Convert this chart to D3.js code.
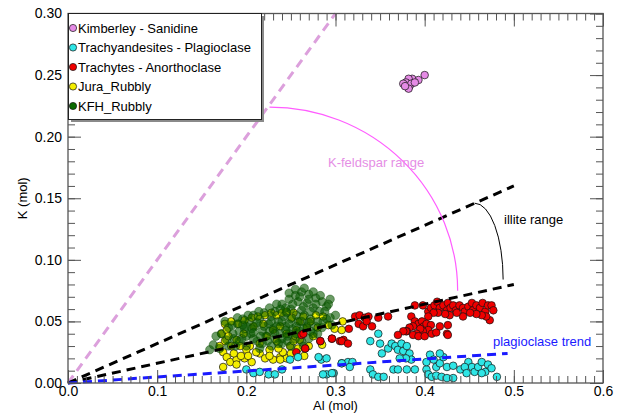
<!DOCTYPE html>
<html>
<head>
<meta charset="utf-8">
<script src="https://cdnjs.cloudflare.com/ajax/libs/d3/7.8.5/d3.min.js"></script>
<style>
body { margin: 0; background: #fff; }
text { font-family: "Liberation Sans", Arial, Helvetica, sans-serif; }
</style>
</head>
<body>
<svg id="chart" width="617" height="413"></svg>
<script>
// values, each point is [Al, K] in mol
var kimberley = [[0.400,0.250],[0.393,0.246],[0.386,0.247],[0.382,0.247],[0.379,0.244],[0.376,0.243],
    [0.383,0.241],[0.385,0.243],[0.389,0.244],[0.382,0.239],[0.378,0.241]];

var trachyandesites = [[0.348,0.040],[0.339,0.034],[0.350,0.032],[0.352,0.024],[0.359,0.028],[0.363,0.032],
    [0.367,0.030],[0.370,0.027],[0.374,0.032],[0.376,0.026],[0.380,0.030],[0.383,0.024],[0.385,0.019],
    [0.379,0.020],[0.372,0.020],[0.284,0.019],[0.290,0.020],[0.307,0.016],[0.314,0.017],[0.319,0.017],
    [0.316,0.013],[0.290,0.007],[0.298,0.008],[0.339,0.011],[0.342,0.007],[0.348,0.005],[0.354,0.005],
    [0.365,0.011],[0.370,0.011],[0.380,0.011],[0.389,0.011],[0.402,0.011],[0.404,0.007],[0.408,0.005],
    [0.413,0.006],[0.419,0.005],[0.425,0.004],[0.432,0.004],[0.413,0.013],[0.417,0.016],[0.421,0.021],
    [0.417,0.024],[0.406,0.023],[0.410,0.019],[0.402,0.017],[0.425,0.013],[0.432,0.014],[0.440,0.011],
    [0.449,0.017],[0.453,0.013],[0.456,0.009],[0.460,0.013],[0.464,0.017],[0.468,0.009],[0.471,0.015],
    [0.475,0.012],[0.481,0.005],[0.464,0.008],[0.445,0.013],[0.447,0.008],[0.200,0.011],[0.208,0.008],
    [0.215,0.009],[0.225,0.007],[0.232,0.007],[0.240,0.011],[0.249,0.019],[0.258,0.021],[0.281,0.021],
    [0.286,0.007],[0.296,0.008],[0.307,0.016]];

var trachytes = [[0.389,0.063],[0.398,0.063],[0.404,0.058],[0.407,0.061],[0.411,0.063],[0.414,0.066],
    [0.417,0.061],[0.421,0.063],[0.425,0.059],[0.426,0.065],[0.429,0.061],[0.432,0.063],[0.435,0.059],
    [0.439,0.063],[0.443,0.061],[0.445,0.058],[0.449,0.062],[0.453,0.065],[0.454,0.059],[0.458,0.063],
    [0.462,0.061],[0.465,0.065],[0.468,0.058],[0.471,0.063],[0.475,0.063],[0.477,0.059],[0.473,0.051],
    [0.469,0.054],[0.464,0.055],[0.458,0.056],[0.451,0.057],[0.443,0.054],[0.436,0.057],[0.428,0.055],
    [0.423,0.056],[0.415,0.057],[0.410,0.057],[0.404,0.054],[0.385,0.054],[0.389,0.050],[0.393,0.048],
    [0.397,0.050],[0.399,0.046],[0.402,0.048],[0.407,0.047],[0.404,0.043],[0.398,0.042],[0.395,0.044],
    [0.391,0.040],[0.387,0.046],[0.383,0.045],[0.380,0.042],[0.387,0.039],[0.393,0.038],[0.400,0.038],
    [0.408,0.040],[0.413,0.041],[0.417,0.046],[0.425,0.040],[0.426,0.047],[0.426,0.039],[0.379,0.042],
    [0.376,0.042],[0.370,0.039],[0.315,0.044],[0.322,0.054],[0.327,0.055],[0.333,0.053],[0.337,0.054],
    [0.326,0.048],[0.331,0.046],[0.335,0.050],[0.341,0.046],[0.348,0.053],[0.359,0.054],[0.296,0.036],
    [0.305,0.034],[0.309,0.035],[0.283,0.034],[0.266,0.028],[0.262,0.039],[0.264,0.040],[0.256,0.025],
    [0.266,0.028],[0.283,0.034],[0.296,0.036],[0.307,0.034],[0.314,0.032]];

var juraRubbly = [[0.176,0.048],[0.183,0.050],[0.191,0.048],[0.198,0.051],[0.206,0.053],[0.213,0.054],
    [0.221,0.055],[0.228,0.057],[0.234,0.055],[0.240,0.057],[0.245,0.058],[0.253,0.057],[0.251,0.053],
    [0.172,0.040],[0.176,0.034],[0.170,0.030],[0.174,0.025],[0.178,0.021],[0.182,0.017],[0.174,0.013],
    [0.189,0.019],[0.198,0.020],[0.206,0.017],[0.215,0.024],[0.221,0.020],[0.230,0.019],[0.238,0.021],
    [0.245,0.020],[0.241,0.025],[0.236,0.028],[0.249,0.030],[0.253,0.034],[0.255,0.038],[0.260,0.035],
    [0.256,0.043],[0.260,0.050],[0.264,0.054],[0.189,0.035],[0.197,0.040],[0.204,0.030],[0.215,0.032],
    [0.223,0.038],[0.230,0.043],[0.238,0.046],[0.208,0.046],[0.219,0.048],[0.200,0.027],[0.211,0.025],
    [0.226,0.027],[0.234,0.034],[0.245,0.040],[0.193,0.030],[0.183,0.030],[0.178,0.043],[0.286,0.054],
    [0.299,0.044],[0.307,0.043],[0.308,0.050],[0.292,0.047],[0.280,0.045],[0.275,0.038],[0.270,0.030],
    [0.285,0.031],[0.265,0.022],[0.189,0.015],[0.238,0.019],[0.272,0.050],[0.278,0.055],[0.180,0.038],
    [0.186,0.024],[0.194,0.022],[0.202,0.022],[0.226,0.022],[0.250,0.024],[0.258,0.028],[0.268,0.045]];

var kfhRubbly = [[0.262,0.074],[0.255,0.071],[0.270,0.072],[0.248,0.068],[0.278,0.069],[0.285,0.066],
    [0.240,0.064],[0.258,0.066],[0.268,0.065],[0.290,0.062],[0.234,0.064],[0.294,0.068],[0.275,0.061],
    [0.250,0.060],[0.262,0.059],[0.282,0.058],[0.245,0.057],[0.180,0.045],[0.185,0.040],[0.190,0.048],
    [0.195,0.036],[0.198,0.044],[0.203,0.050],[0.205,0.040],[0.210,0.046],[0.212,0.034],[0.215,0.052],
    [0.218,0.042],[0.222,0.038],[0.225,0.048],[0.228,0.054],[0.230,0.044],[0.232,0.036],[0.236,0.050],
    [0.238,0.040],[0.242,0.054],[0.244,0.046],[0.246,0.038],[0.250,0.052],[0.252,0.044],[0.255,0.036],
    [0.258,0.050],[0.260,0.042],[0.265,0.055],[0.268,0.046],[0.272,0.052],[0.275,0.040],[0.280,0.050],
    [0.285,0.045],[0.290,0.052],[0.178,0.035],[0.188,0.030],[0.200,0.030],[0.215,0.028],[0.228,0.030],
    [0.240,0.032],[0.250,0.030],[0.262,0.034],[0.270,0.036],[0.196,0.052],[0.208,0.055],[0.220,0.057],
    [0.232,0.058],[0.172,0.040],[0.176,0.050],[0.166,0.038],[0.159,0.027],[0.163,0.031],[0.300,0.055],
    [0.296,0.047],[0.170,0.028],[0.255,0.076],[0.265,0.077],[0.248,0.073],[0.275,0.074],[0.283,0.071],
    [0.292,0.064],[0.270,0.068],[0.260,0.070],[0.252,0.064],[0.244,0.061],[0.264,0.062],[0.278,0.064],
    [0.288,0.058],[0.272,0.058],[0.256,0.055],[0.238,0.060],[0.226,0.061],[0.214,0.058],[0.202,0.055],
    [0.190,0.053],[0.184,0.047],[0.192,0.042],[0.200,0.046],[0.206,0.044],[0.212,0.049],[0.220,0.046],
    [0.226,0.042],[0.234,0.046],[0.240,0.050],[0.248,0.048],[0.256,0.046],[0.262,0.050],[0.270,0.049],
    [0.278,0.046],[0.286,0.050],[0.294,0.053],[0.200,0.038],[0.208,0.036],[0.216,0.038],[0.224,0.034],
    [0.232,0.040],[0.240,0.036],[0.248,0.040],[0.256,0.040],[0.264,0.044],[0.272,0.042],[0.280,0.040],
    [0.192,0.034],[0.218,0.032],[0.236,0.032],[0.246,0.034],[0.264,0.030],[0.208,0.041],[0.228,0.050],
    [0.244,0.043],[0.196,0.047],[0.186,0.036],[0.180,0.030]];

// reference lines, start and end in [Al, K]
var kfsLine = [[0, 0], [0.3, 0.3]];
var illiteUpper = [[0, 0], [0.5, 0.16]];
var illiteLower = [[0, 0], [0.5, 0.08]];
var plagTrend = [[0, 0], [0.493, 0.024]];
// range arcs, from start to end point
var kfsArc = [[0.226, 0.224], [0.437, 0.075]];
var illiteArc = [[0.456, 0.146], [0.488, 0.084]];

var xTicks = [0, 0.1, 0.2, 0.3, 0.4, 0.5, 0.6];
var yTicks = [0, 0.05, 0.10, 0.15, 0.20, 0.25, 0.30];
var seriesNames = ["Kimberley - Sanidine", "Trachyandesites - Plagioclase", "Trachytes - Anorthoclase",
    "Jura_Rubbly", "KFH_Rubbly"];

var svg = d3.select("#chart");
var pLeft = 68, pRight = 603, pTop = 13.5, pBottom = 383;

var x = d3.scaleLinear().domain([0, 0.6]).range([pLeft, pRight]);
var y = d3.scaleLinear().domain([0, 0.3]).range([pBottom, pTop]);

svg.append("rect").attr("width", 617).attr("height", 413).attr("fill", "#fff");

// scatter, drawn back to front
function dots(data, fill, opts) {
    opts = opts || {};
    svg.append("g").selectAll("circle")
        .data(data)
        .enter()
        .append("circle")
        .attr("cx", function(d) { return x(d[0]); })
        .attr("cy", function(d) { return y(d[1]); })
        .attr("r", opts.r || 3.8)
        .attr("fill", fill)
        .attr("fill-opacity", opts.alpha || 1)
        .attr("stroke", opts.stroke || "#111")
        .attr("stroke-opacity", opts.alpha || 1)
        .attr("stroke-width", 0.7);
}
dots(juraRubbly, "#f4ee00");
dots(kfhRubbly, "#0a5a00", { alpha: 0.6, stroke: "#084800", r: 4.2 });
dots(trachytes, "#f00000");
dots(trachyandesites, "#2fe6e6");
dots(kimberley, "#e58be5");

var line = d3.line().x(function(d) { return x(d[0]); }).y(function(d) { return y(d[1]); });
function dashed(pts, color) {
    svg.append("path").attr("d", line(pts)).attr("fill", "none")
        .attr("stroke", color).attr("stroke-width", 3).attr("stroke-dasharray", "9,6");
}
dashed(kfsLine, "#dca0dc");
dashed(illiteUpper, "#000");
dashed(illiteLower, "#000");
dashed(plagTrend, "#1a1aff");

// quarter ellipse from top point round to the right end point
function arc(pts, color, w) {
    var x0 = x(pts[0][0]), y0 = y(pts[0][1]), x1 = x(pts[1][0]), y1 = y(pts[1][1]);
    svg.append("path")
        .attr("d", "M" + x0 + "," + y0 + " A" + (x1 - x0) + "," + (y1 - y0) + " 0 0 1 " + x1 + "," + y1)
        .attr("fill", "none").attr("stroke", color).attr("stroke-width", w);
}
arc(kfsArc, "#ff5cff", 1.2);
arc(illiteArc, "#000", 1);

svg.append("text").attr("x", 328).attr("y", 167).attr("font-size", 13)
    .attr("fill", "#e58ee5").text("K-feldspar range");
svg.append("text").attr("x", 504).attr("y", 224).attr("font-size", 13)
    .attr("fill", "#000").text("illite range");
svg.append("text").attr("x", 493).attr("y", 346).attr("font-size", 13)
    .attr("fill", "#1a1aff").text("plagioclase trend");

// axes, ticks point inwards on all four sides
var minorX = d3.range(0, 0.6001, 0.01), minorY = d3.range(0, 0.3001, 0.01);
function axis(make, scale, tr, major, minor, fmt) {
    var g = svg.append("g").attr("transform", tr);
    g.append("g").call(make(scale).tickValues(minor).tickSize(-7).tickFormat(""));
    g.append("g").call(make(scale).tickValues(major).tickSize(-13).tickPadding(fmt ? 3 : 0)
        .tickFormat(fmt ? d3.format(fmt) : ""));
    g.selectAll(".domain").remove();
    g.selectAll("line").attr("stroke", "#555").attr("stroke-width", 1);
    g.selectAll("text").attr("font-size", 14).attr("fill", "#000")
        .attr("font-family", "'Liberation Sans', Arial, sans-serif");
    return g;
}
axis(d3.axisBottom, x, "translate(0," + pBottom + ")", xTicks, minorX, ".1f");
axis(d3.axisTop, x, "translate(0," + pTop + ")", xTicks, minorX, null);
axis(d3.axisLeft, y, "translate(" + pLeft + ",0)", yTicks, minorY, ".2f")
    .selectAll("text").attr("x", -6);
axis(d3.axisRight, y, "translate(" + pRight + ",0)", yTicks, minorY, null);

svg.append("rect").attr("x", pLeft).attr("y", pTop).attr("width", pRight - pLeft).attr("height", pBottom - pTop)
    .attr("fill", "none").attr("stroke", "#555").attr("stroke-width", 1.3);

svg.append("text").attr("x", (pLeft + pRight) / 2).attr("y", 409.5).attr("text-anchor", "middle")
    .attr("font-size", 13).text("Al (mol)");
svg.append("text").attr("transform", "translate(27," + (pTop + pBottom) / 2 + ") rotate(-90)")
    .attr("text-anchor", "middle").attr("font-size", 13).text("K (mol)");

// legend with a drop shadow
var legendColors = ["#e58be5", "#2fe6e6", "#f00000", "#f4ee00", "#0b6a00"];
svg.append("rect").attr("x", 71).attr("y", 16).attr("width", 193).attr("height", 106).attr("fill", "#8a8a8a");
svg.append("rect").attr("x", 68.5).attr("y", 13.5).attr("width", 193).attr("height", 106)
    .attr("fill", "#fff").attr("stroke", "#222").attr("stroke-width", 1);
var lg = svg.append("g").selectAll("g")
    .data(seriesNames)
    .enter()
    .append("g")
    .attr("transform", function(d, i) { return "translate(73," + (28 + i * 19.5) + ")"; });
lg.append("circle").attr("r", 3.6)
    .attr("fill", function(d, i) { return legendColors[i]; })
    .attr("stroke", "#111").attr("stroke-width", 0.7);
lg.append("text").attr("x", 5).attr("y", 4.6).attr("font-size", 13).text(function(d) { return d; });
</script>
</body>
</html>
